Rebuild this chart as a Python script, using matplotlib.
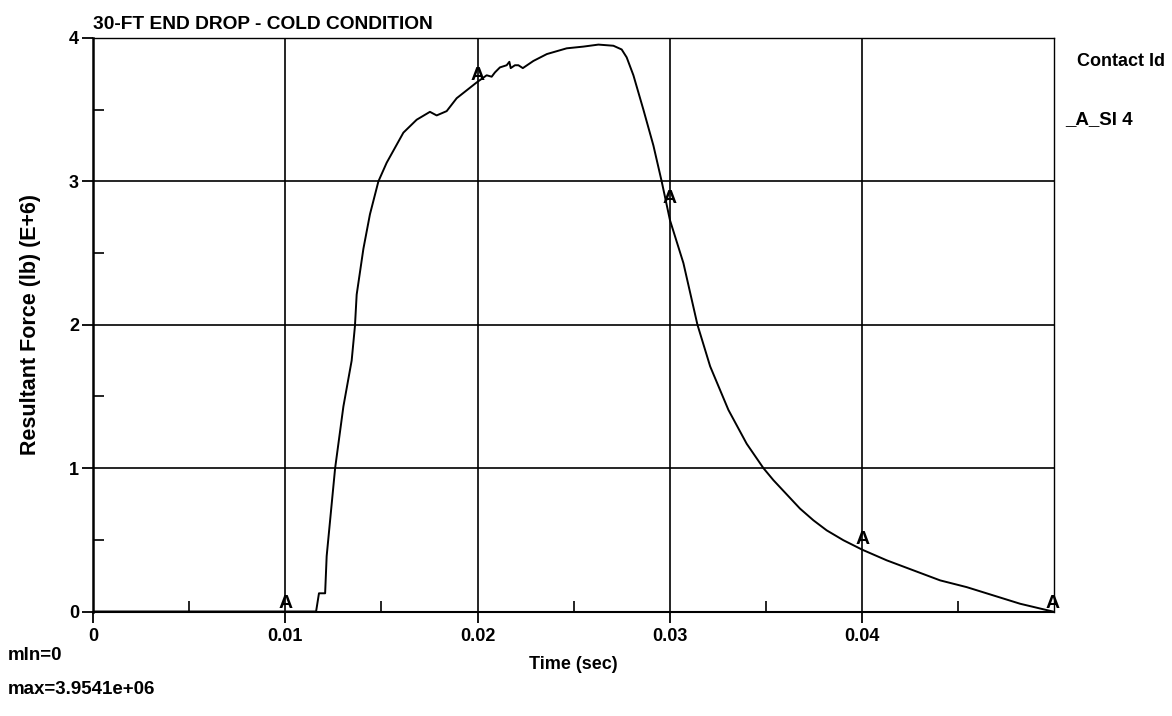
import matplotlib
matplotlib.use("Agg")
import matplotlib.pyplot as plt
from matplotlib.ticker import MultipleLocator

# --- DATA ---
time_sec = [0.0, 0.0116, 0.01175, 0.01207, 0.01215, 0.01259, 0.01302, 0.01345,
            0.01362, 0.01371, 0.01406, 0.0144, 0.01484, 0.01527, 0.01614, 0.01683,
            0.01752, 0.01787, 0.01839, 0.01891, 0.01995, 0.02047, 0.02073, 0.0209,
            0.02116, 0.02151, 0.02165, 0.02172, 0.02194, 0.02212, 0.02235, 0.0229,
            0.0236, 0.02463, 0.0255, 0.02628, 0.02706, 0.02749, 0.02775, 0.0281,
            0.02862, 0.02914, 0.02957, 0.03, 0.0307, 0.03143, 0.03209, 0.03304,
            0.03399, 0.03486, 0.03538, 0.03676, 0.03746, 0.03815, 0.03902, 0.04,
            0.04127, 0.04266, 0.04405, 0.04543, 0.04682, 0.04821, 0.0499]
force_e6 = [0.0, 0.0, 0.127, 0.127, 0.386, 1.0, 1.43, 1.75,
            1.99, 2.21, 2.53, 2.77, 3.0, 3.13, 3.34, 3.43,
            3.485, 3.46, 3.49, 3.58, 3.69, 3.74, 3.73, 3.76,
            3.795, 3.81, 3.834, 3.79, 3.81, 3.81, 3.79, 3.84,
            3.888, 3.928, 3.94, 3.954, 3.946, 3.92, 3.865, 3.74,
            3.50, 3.25, 3.0, 2.73, 2.43, 2.0, 1.71, 1.406,
            1.17, 1.0, 0.916, 0.718, 0.636, 0.566, 0.497, 0.431,
            0.357, 0.287, 0.217, 0.17, 0.112, 0.054, 0.0]

# "A" curve-id symbols
marker_t = [0.01, 0.02, 0.03, 0.04, 0.0499]
marker_f = [0.0, 3.68, 2.82, 0.44, 0.0]

x_ticks = [0, 0.01, 0.02, 0.03, 0.04]
x_tick_labels = ["0", "0.01", "0.02", "0.03", "0.04"]
y_ticks = [0, 1, 2, 3, 4]

font = ["Liberation Sans", "DejaVu Sans"]

fig = plt.figure(figsize=(11.72, 7.16), dpi=100)
ax = fig.add_axes([93 / 1172, 1 - 611.5 / 716, 961 / 1172, 573.5 / 716])

ax.plot(time_sec, force_e6, color="black", lw=1.4, zorder=3)
for t, f in zip(marker_t, marker_f):
    ax.text(t, f, "A", ha="center", va="bottom", fontsize=14, fontweight="bold",
            family=font, clip_on=False, zorder=4)

ax.set_xlim(0, 0.04997)
ax.set_ylim(0, 4)

ax.set_xticks(x_ticks)
ax.set_xticklabels(x_tick_labels)
ax.set_yticks(y_ticks)
ax.xaxis.set_minor_locator(MultipleLocator(0.005))
ax.yaxis.set_minor_locator(MultipleLocator(0.5))
ax.tick_params(which="major", direction="out", length=8, width=1.3, colors="black", pad=4)
ax.tick_params(which="minor", direction="in", length=8, width=1.2, colors="black")
ax.tick_params(axis="y", which="major", pad=2)
for lab in ax.get_xticklabels() + ax.get_yticklabels():
    lab.set_fontfamily(font)
    lab.set_fontweight("bold")
    lab.set_fontsize(13)

ax.grid(True, which="major", color="black", lw=1.2)
ax.set_axisbelow(True)
for side in ["top", "right"]:
    ax.spines[side].set_linewidth(1.0)
ax.spines["left"].set_linewidth(1.8)
ax.spines["bottom"].set_linewidth(1.5)

ax.set_ylabel("Resultant Force (lb) (E+6)", fontsize=15.5, fontweight="bold",
              family=font, labelpad=20)
ax.set_xlabel("Time (sec)", fontsize=13, fontweight="bold", family=font, labelpad=8)

fig.text(93 / 1172, 1 - 29 / 716, "30-FT END DROP - COLD CONDITION", fontsize=13.8,
         fontweight="bold", family=font, ha="left", va="baseline")
fig.text(1077 / 1172, 1 - 61 / 716, "Contact Id", fontsize=13, fontweight="bold",
         family=font, ha="left", va="center")
fig.text(1065 / 1172, 1 - 120 / 716, "_A_SI 4", fontsize=13.5, fontweight="bold",
         family=font, ha="left", va="center")
fig.text(8 / 1172, 1 - 656 / 716, "mln=0", fontsize=13.5, fontweight="bold",
         family=font, ha="left", va="center")
fig.text(8 / 1172, 1 - 690 / 716, "max=3.9541e+06", fontsize=13.5, fontweight="bold",
         family=font, ha="left", va="center")

fig.savefig("out.png", dpi=100)
